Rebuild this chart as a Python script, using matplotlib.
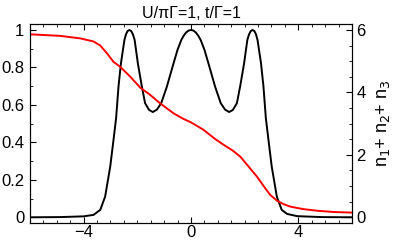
import numpy as np
import matplotlib.pyplot as plt

plt.rcParams['font.family'] = ['Liberation Sans', 'DejaVu Sans']

# transmission (left axis)
tx = [-6.0, -4.9, -4.0, -3.63, -3.38, -3.2, -3.01, -2.89, -2.79, -2.70, -2.61,
      -2.48, -2.42, -2.36, -2.29, -2.22, -2.16, -2.10, -1.98, -1.83, -1.71, -1.56,
      -1.42, -1.27, -1.11, -0.90, -0.65, -0.50, -0.36, -0.27, -0.18, -0.09, 0.0,
      0.09, 0.18, 0.27, 0.36, 0.50, 0.65, 0.90, 1.11, 1.27, 1.42, 1.56, 1.71,
      1.83, 1.98, 2.10, 2.16, 2.22, 2.29, 2.36, 2.42, 2.48, 2.61, 2.70, 2.79,
      2.89, 3.01, 3.2, 3.38, 3.58, 3.96, 4.9, 6.0]
ty = [0.0, 0.001, 0.005, 0.013, 0.04, 0.11, 0.27, 0.41, 0.53, 0.70, 0.822,
      0.947, 0.978, 0.995, 1.0, 0.993, 0.975, 0.947, 0.822, 0.697, 0.609, 0.573,
      0.562, 0.575, 0.609, 0.697, 0.822, 0.895, 0.947, 0.970, 0.987, 0.997, 1.0,
      0.997, 0.987, 0.970, 0.947, 0.895, 0.822, 0.697, 0.609, 0.575, 0.562, 0.573, 0.609,
      0.697, 0.822, 0.947, 0.975, 0.993, 1.0, 0.995, 0.978, 0.947, 0.822, 0.70, 0.53,
      0.41, 0.27, 0.11, 0.04, 0.018, 0.006, 0.001, 0.0]

# occupation n1+n2+n3 (right axis)
nx = [-6.0, -4.88, -4.13, -3.63, -3.38, -3.13, -2.89, -2.64, -2.26, -1.89, -1.52,
      -1.15, -0.65, -0.28, 0.0, 0.47, 0.91, 1.22, 1.55, 1.84, 2.15, 2.46, 2.75,
      2.96, 3.21, 3.45, 3.71, 4.2, 4.7, 5.3, 6.0]
ny = [5.86, 5.81, 5.73, 5.63, 5.50, 5.25, 4.98, 4.82, 4.50, 4.15, 3.92,
      3.65, 3.33, 3.15, 3.04, 2.80, 2.50, 2.32, 2.14, 1.94, 1.62, 1.30, 0.95,
      0.71, 0.53, 0.42, 0.34, 0.26, 0.21, 0.17, 0.15]

fig = plt.figure(figsize=(4.03, 2.4), dpi=100)
ax = fig.add_axes([0.0744, 0.072, 0.799, 0.828])
ax.plot(tx, ty, color='black', lw=1.4)
ax.set_xlim(-6, 6)
ax.set_ylim(-0.029, 1.032)
ax.set_xticks([-4, 0, 4])
ax.set_xticks(np.arange(-6, 6.01, 0.5), minor=True)
ax.set_yticks([0, 0.2, 0.4, 0.6, 0.8, 1])
ax.set_yticklabels(['0', '0.2', '0.4', '0.6', '0.8', '1'])
ax.set_yticks(np.arange(0, 1.01, 0.1), minor=True)
ax.tick_params(axis='both', which='both', direction='in', labelsize=12)
ax.tick_params(axis='x', which='both', top=True)
ax.tick_params(axis='y', which='both', right=False)
ax.tick_params(which='major', length=4, width=0.8)
ax.tick_params(which='minor', length=2.5, width=0.6)
ax.tick_params(axis='x', pad=2)
ax.tick_params(axis='y', pad=4)
ax.set_title('U/\u03c0\u0393=1, t/\u0393=1', fontsize=11.5, pad=4)

ax2 = ax.twinx()
ax2.plot(nx, ny, color='red', lw=1.4)
ax2.set_ylim(-0.174, 6.19)
ax2.set_yticks([0, 2, 4, 6])
ax2.set_yticks(np.arange(0, 6.01, 0.5), minor=True)
ax2.tick_params(axis='y', which='both', direction='in', labelsize=12, pad=3)
ax2.tick_params(which='major', length=4, width=0.8)
ax2.tick_params(which='minor', length=2.5, width=0.6)
ax2.set_ylabel('n$_1$+ n$_2$+ n$_3$', fontsize=13, labelpad=6)

fig.savefig('out.png', dpi=100)
